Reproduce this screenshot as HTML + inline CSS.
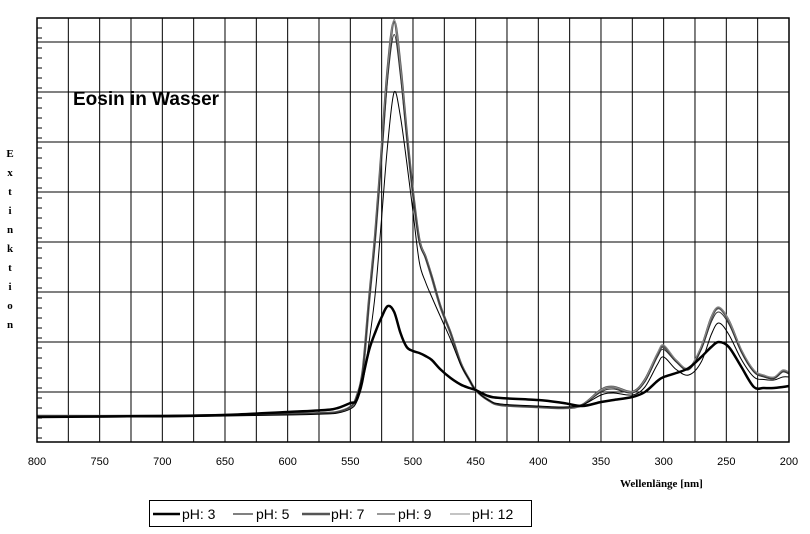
<!DOCTYPE html>
<html><head><meta charset="utf-8"><style>
body{margin:0;background:#fff;}
svg{display:block;font-family:"Liberation Sans",sans-serif;}
</style></head><body>
<svg id="chart" width="810" height="534" viewBox="0 0 810 534">
<g id="grid"></g>
<g id="ticks"></g>
<g id="series"></g>
<rect x="37" y="18" width="752" height="424" fill="none" stroke="#000" stroke-width="1.5"/>
<text x="73" y="105" font-size="19" font-weight="bold">Eosin in Wasser</text>
<g id="ytitle" font-family="Liberation Serif,serif" font-weight="bold" font-size="11"></g>
<text x="620" y="487" font-family="Liberation Serif,serif" font-weight="bold" font-size="11">Wellenlänge [nm]</text>
<g>
<rect x="149.5" y="500.5" width="382" height="26" fill="#fff" stroke="#000"/>
<g id="legend-items"></g>
</g>
</svg>
<script>
const wavelengths=[800,700,650,600,570,560,550,545,540,535,530,525,520,515,510,505,500,495,490,485,478,470,462,455,450,440,430,400,380,365,350,340,325,315,305,300,290,280,270,262,256,248,238,228,220,212,205,200];
const ph3=[0.05,0.052,0.054,0.06,0.064,0.068,0.078,0.084,0.13,0.184,0.22,0.25,0.272,0.26,0.218,0.19,0.182,0.178,0.172,0.164,0.145,0.128,0.115,0.108,0.104,0.092,0.088,0.084,0.078,0.072,0.08,0.084,0.09,0.1,0.122,0.13,0.138,0.148,0.17,0.19,0.2,0.19,0.15,0.11,0.108,0.108,0.11,0.112];
const ph5=[0.05,0.05,0.052,0.054,0.056,0.058,0.066,0.08,0.12,0.2,0.3,0.45,0.6,0.7,0.65,0.56,0.46,0.36,0.32,0.29,0.25,0.205,0.155,0.124,0.104,0.084,0.076,0.072,0.07,0.074,0.094,0.098,0.094,0.11,0.155,0.17,0.145,0.134,0.16,0.215,0.238,0.215,0.165,0.13,0.125,0.124,0.13,0.13];
const ph7=[0.052,0.052,0.054,0.056,0.058,0.06,0.07,0.09,0.144,0.284,0.418,0.584,0.75,0.84,0.75,0.618,0.498,0.404,0.37,0.33,0.27,0.218,0.158,0.124,0.104,0.084,0.074,0.07,0.068,0.074,0.104,0.11,0.1,0.124,0.175,0.19,0.162,0.146,0.188,0.248,0.268,0.242,0.182,0.142,0.132,0.128,0.142,0.138];
const ph9=[0.052,0.052,0.054,0.056,0.058,0.06,0.07,0.09,0.144,0.28,0.41,0.57,0.73,0.815,0.73,0.61,0.495,0.4,0.368,0.33,0.27,0.218,0.158,0.124,0.104,0.084,0.074,0.07,0.068,0.074,0.1,0.106,0.098,0.12,0.17,0.185,0.16,0.145,0.185,0.24,0.26,0.236,0.18,0.14,0.13,0.127,0.14,0.136];
const ph12=[0.052,0.052,0.054,0.056,0.058,0.06,0.07,0.09,0.144,0.284,0.418,0.584,0.75,0.845,0.75,0.618,0.498,0.404,0.37,0.33,0.27,0.218,0.158,0.124,0.104,0.084,0.074,0.07,0.068,0.074,0.104,0.11,0.1,0.124,0.178,0.194,0.164,0.148,0.19,0.25,0.27,0.244,0.184,0.144,0.134,0.13,0.144,0.14];
const xTicks=[800,750,700,650,600,550,500,450,400,350,300,250,200];
const seriesNames=["pH: 3","pH: 5","pH: 7","pH: 9","pH: 12"];

const NS="http://www.w3.org/2000/svg";
function xs(nm){return 37+(800-nm)*1.2533;}
function ys(v){return 442-v*500;}
function mk(tag,attrs,parent){const e=document.createElementNS(NS,tag);for(const k in attrs)e.setAttribute(k,attrs[k]);parent.appendChild(e);return e;}

const grid=document.getElementById('grid');
for(let nm=775;nm>200;nm-=25){
  const l=mk('line',{x1:xs(nm),x2:xs(nm),y1:18,y2:442,stroke:'#000','stroke-width':1},grid);
  
  
}
for(let v=0.1;v<0.85;v+=0.1){
  const l=mk('line',{x1:37,x2:789,y1:ys(v),y2:ys(v),stroke:'#000','stroke-width':1},grid);
  
  
}
const ticks=document.getElementById('ticks');
for(let y=28;y<442;y+=10){
  const t=mk('line',{x1:37,x2:42,y1:y,y2:y,stroke:'#000'},ticks);
  
  
}
xTicks.forEach(nm=>{
  const t=mk('text',{x:xs(nm),y:465,'text-anchor':'middle','font-size':11},ticks);
  t.textContent=nm;
  
  
});
const yt=document.getElementById('ytitle');
"Extinktion".split("").forEach((c,i)=>{
  const t=mk('text',{x:10,y:157+i*19,'text-anchor':'middle'},yt);
  t.textContent=c;
  
  
});

function smoothPath(pts){
  let d=`M${pts[0][0]},${pts[0][1]}`;
  for(let i=0;i<pts.length-1;i++){
    const p0=pts[Math.max(0,i-1)],p1=pts[i],p2=pts[i+1],p3=pts[Math.min(pts.length-1,i+2)];
    const c1=[p1[0]+(p2[0]-p0[0])/6,p1[1]+(p2[1]-p0[1])/6];
    const c2=[p2[0]-(p3[0]-p1[0])/6,p2[1]-(p3[1]-p1[1])/6];
    d+=` C${c1[0].toFixed(1)},${c1[1].toFixed(1)} ${c2[0].toFixed(1)},${c2[1].toFixed(1)} ${p2[0].toFixed(1)},${p2[1].toFixed(1)}`;
  }
  return d;
}
const seriesData=[ph3,ph5,ph7,ph9,ph12];
const styles=[{c:'#000',w:2.5},{c:'#000',w:1},{c:'#555',w:2.5},{c:'#333',w:1},{c:'#888',w:1.2}];
const sl=document.getElementById('series');
[2,4,3,1,0].forEach(i=>{
  const pts=wavelengths.map((nm,k)=>[xs(nm),ys(seriesData[i][k])]);
  const p=mk('path',{d:smoothPath(pts),fill:'none',stroke:styles[i].c,'stroke-width':styles[i].w,'stroke-linejoin':'round'},sl);
  
  
});
const lg=document.getElementById('legend-items');
const lx=[[153,180,182],[233,253,256],[302,330,331],[377,395,398],[450,470,472]];
seriesNames.forEach((n,i)=>{
  const g=mk('g',{},lg);
  
  
  mk('line',{x1:lx[i][0],x2:lx[i][1],y1:514,y2:514,stroke:styles[i].c,'stroke-width':styles[i].w>2?2.5:1},g);
  const t=mk('text',{x:lx[i][2],y:519,'font-size':14},g);
  t.textContent=n;
});
</script>
</body></html>
